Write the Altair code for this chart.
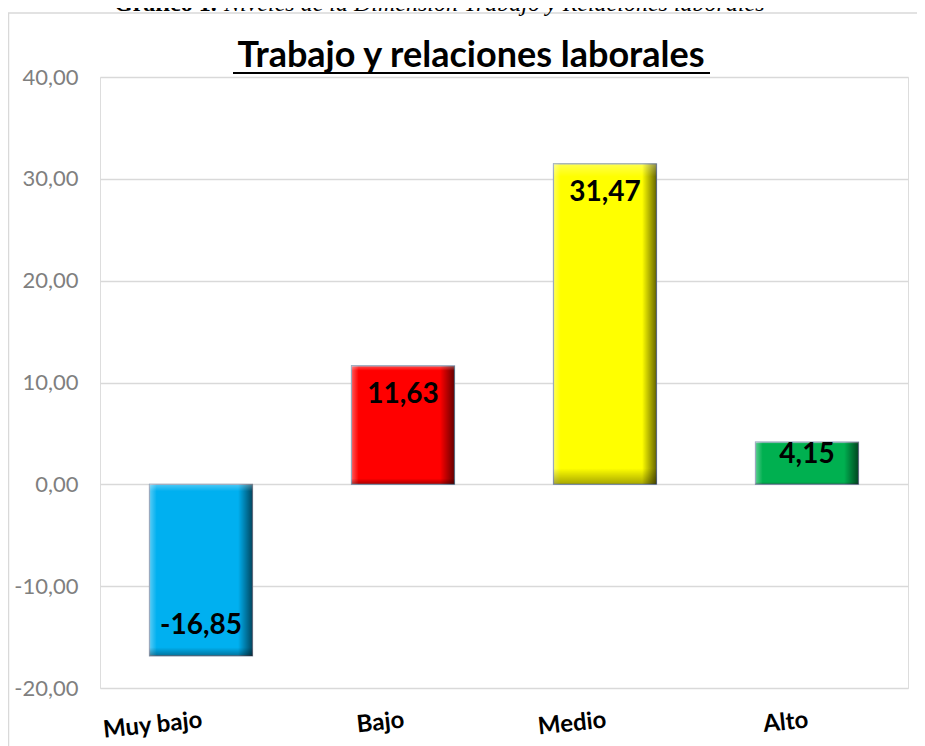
import altair as alt
import pandas as pd

categories = ["Muy bajo", "Bajo", "Medio", "Alto"]
values = [-16.85, 11.63, 31.47, 4.15]
bar_colors = ["#00B0F0", "#FF0000", "#FFFF00", "#00B050"]
y_ticks = [-20, -10, 0, 10, 20, 30, 40]

chart_title = "Trabajo y relaciones laborales"
caption_bold = "Gráfico 1."
caption_italic = "Niveles de la Dimensión Trabajo y Relaciones laborales"

df = pd.DataFrame({"cat": categories, "v": values})

W, H = 808, 611
FONT = "Lato"

x_enc = alt.X("cat:N", sort=categories,
              scale=alt.Scale(paddingInner=0.49, paddingOuter=0.245),
              axis=alt.Axis(title=None, labelAngle=354, labelAlign="right",
                            labelBaseline="top", labelPadding=20, ticks=False,
                            domain=False, labelFont=FONT, labelFontWeight="bold",
                            labelFontSize=24, labelColor="#000000"))
y_enc = alt.Y("v:Q", scale=alt.Scale(domain=[-20, 40], nice=False, zero=False),
              axis=alt.Axis(title=None, values=y_ticks, ticks=False, domain=False,
                            labelExpr="(datum.value < 0 ? '-' : '') + replace(format(abs(datum.value), '.2f'), '.', ',')",
                            labelFont=FONT, labelFontSize=22, labelColor="#7F7F7F",
                            labelPadding=22, gridColor="#D9D9D9", gridWidth=1.5))

base = alt.Chart(df)

bars = base.mark_bar(stroke="#8497B0", strokeWidth=1.2).encode(
    x=x_enc, y=y_enc, y2=alt.datum(0),
    color=alt.Color("cat:N", sort=categories,
                    scale=alt.Scale(domain=categories, range=bar_colors), legend=None),
)

h_grad = alt.LinearGradient(gradient="linear", x1=0, x2=1, y1=0, y2=0, stops=[
    alt.GradientStop(color="rgba(255,255,255,0.35)", offset=0),
    alt.GradientStop(color="rgba(255,255,255,0)", offset=0.07),
    alt.GradientStop(color="rgba(0,0,0,0)", offset=0.86),
    alt.GradientStop(color="rgba(0,0,0,0.6)", offset=1),
])
v_grad = alt.LinearGradient(gradient="linear", x1=0, x2=0, y1=0, y2=1, stops=[
    alt.GradientStop(color="rgba(255,255,255,0.3)", offset=0),
    alt.GradientStop(color="rgba(255,255,255,0)", offset=0.04),
    alt.GradientStop(color="rgba(0,0,0,0)", offset=0.95),
    alt.GradientStop(color="rgba(0,0,0,0.35)", offset=1),
])
shade_h = base.mark_bar(color=h_grad).encode(x=alt.X("cat:N", sort=categories), y="v:Q", y2=alt.datum(0))
shade_v = base.mark_bar(color=v_grad).encode(x=alt.X("cat:N", sort=categories), y="v:Q", y2=alt.datum(0))

labels = base.transform_calculate(
    lp="datum.v - (datum.v >= 0 ? 1 : -1) * min(2.9, abs(datum.v) * 0.3)",
    txt="(datum.v < 0 ? '-' : '') + replace(format(abs(datum.v), '.2f'), '.', ',')",
).mark_text(font=FONT, fontWeight="bold", fontSize=28, color="#000000",
            baseline="middle", align="center").encode(
    x=alt.X("cat:N", sort=categories), y="lp:Q", text="txt:N")

title_txt = alt.Chart(pd.DataFrame({"t": [chart_title]})).mark_text(
    font=FONT, fontWeight="bold", fontSize=36, color="#000000",
    align="center", baseline="alphabetic").encode(
    x=alt.value(371), y=alt.value(-10), text="t:N")
underline = alt.Chart(pd.DataFrame({"t": [chart_title]})).mark_rule(
    color="#000000", strokeWidth=2).encode(
    x=alt.value(133), x2=alt.value(610), y=alt.value(-4))

cap1 = alt.Chart(pd.DataFrame({"t": [caption_bold]})).mark_text(
    font="Liberation Serif", fontWeight="bold", fontSize=24, color="#000000",
    align="left", baseline="alphabetic").encode(
    x=alt.value(14), y=alt.value(-66), text="t:N")
cap2 = alt.Chart(pd.DataFrame({"t": [caption_italic]})).mark_text(
    font="Liberation Serif", fontStyle="italic", fontSize=24, color="#000000",
    align="left", baseline="alphabetic").encode(
    x=alt.value(124), y=alt.value(-66), text="t:N")

border_top = alt.Chart(pd.DataFrame({"t": [0]})).mark_rule(
    color="#D9D9D9", strokeWidth=1.5).encode(
    x=alt.value(-92), x2=alt.value(830), y=alt.value(-64))
border_left = alt.Chart(pd.DataFrame({"t": [0]})).mark_rule(
    color="#D9D9D9", strokeWidth=1.5).encode(
    x=alt.value(-91.5), y=alt.value(-64), y2=alt.value(700))

chart = alt.layer(
    border_top, border_left, bars, shade_h, shade_v, labels,
    title_txt, underline, cap1, cap2,
).properties(
    width=W, height=H,
    autosize=alt.AutoSizeParams(type="none"),
    padding={"left": 92, "top": 69, "right": 9, "bottom": 62},
).configure_view(stroke=None).configure(background="#FFFFFF")

chart.save("out.html", embed_options={"renderer": "svg", "actions": False})
